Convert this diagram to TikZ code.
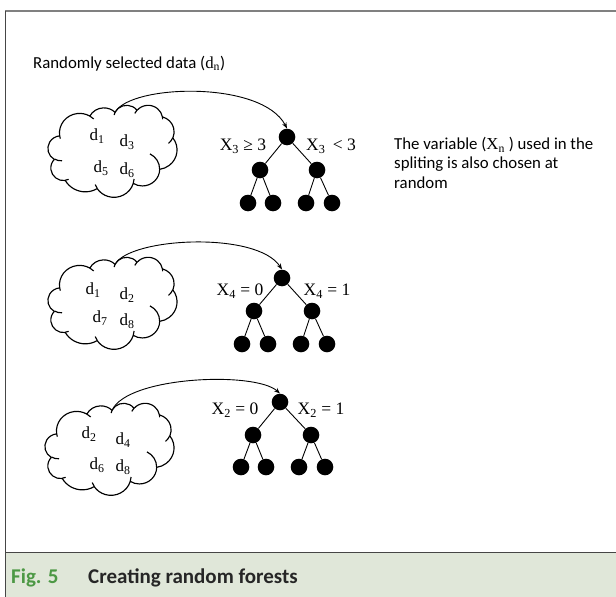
\documentclass[tikz,border=0pt]{standalone}
\usepackage{fontspec}
\setmainfont{Carlito}
\newfontfamily\tms{Liberation Serif}
\usetikzlibrary{arrows.meta}
\definecolor{bandfill}{RGB}{224,231,217}
\definecolor{figgreen}{RGB}{76,152,68}
\definecolor{framegray}{RGB}{128,128,128}
\definecolor{edgegray}{RGB}{70,70,70}
\newcommand{\sbs}[1]{\textsubscript{#1}}
% convert visual (DrawingML) arc angles to parametric angles
\newcommand{\mkarc}[5]{%
  \pgfmathsetmacro\tmpA{atan2(#2*sin(#4),#3*cos(#4))}%
  \pgfmathsetmacro\tmpB{atan2(#2*sin(#4+#5),#3*cos(#4+#5))}%
  \pgfmathsetmacro\tmpD{mod(\tmpB-\tmpA+720,360)}%
  \expandafter\xdef\csname arcS#1\endcsname{\tmpA}%
  \expandafter\xdef\csname arcD#1\endcsname{\tmpD}}
\mkarc{a}{67.53}{91.90}{-190.487}{123.781}
\mkarc{b}{53.33}{72.67}{-144.102}{89.945}
\mkarc{c}{43.65}{59.45}{-145.808}{99.723}
\mkarc{d}{48.57}{65.95}{-130.986}{117.242}
\mkarc{e}{53.33}{72.73}{-78.709}{109.027}
\mkarc{f}{67.75}{92.20}{-46.267}{130.269}
\mkarc{g}{57.85}{78.67}{0.625}{114.033}
\mkarc{h}{67.52}{92.15}{22.452}{115.173}
\mkarc{i}{77.20}{105.43}{66.243}{75.711}
\mkarc{j}{43.60}{59.18}{-274.942}{146.736}
\mkarc{k}{43.45}{59.45}{-246.829}{152.519}
\mkarc{A}{43.45}{59.45}{86.742}{26.430}
\mkarc{B}{43.60}{59.18}{73.610}{11.447}
\mkarc{C}{67.52}{92.15}{137.624}{14.081}
\mkarc{D}{67.52}{92.15}{6.453}{15.998}
\mkarc{E}{57.85}{78.67}{-70.292}{70.917}
\mkarc{F}{53.33}{72.73}{30.318}{27.752}
\mkarc{G}{48.57}{65.95}{-13.744}{14.859}
\mkarc{H}{48.57}{65.95}{-149.181}{18.195}
\mkarc{I}{43.65}{59.45}{-163.494}{17.686}
\mkarc{J}{67.53}{91.90}{-66.707}{12.319}
\mkarc{K}{67.53}{91.90}{157.654}{11.858}
\newcommand{\cloudshape}[1]{%
  \draw[cloudline] (39.00,143.70)
    arc[x radius=67.53,y radius=91.90,start angle=\arcSa,delta angle=\arcDa]
    arc[x radius=53.33,y radius=72.67,start angle=\arcSb,delta angle=\arcDb] coordinate (#1)
    arc[x radius=43.65,y radius=59.45,start angle=\arcSc,delta angle=\arcDc]
    arc[x radius=48.57,y radius=65.95,start angle=\arcSd,delta angle=\arcDd]
    arc[x radius=53.33,y radius=72.73,start angle=\arcSe,delta angle=\arcDe]
    arc[x radius=67.75,y radius=92.20,start angle=\arcSf,delta angle=\arcDf]
    arc[x radius=57.85,y radius=78.67,start angle=\arcSg,delta angle=\arcDg]
    arc[x radius=67.52,y radius=92.15,start angle=\arcSh,delta angle=\arcDh]
    arc[x radius=77.20,y radius=105.43,start angle=\arcSi,delta angle=\arcDi]
    arc[x radius=43.60,y radius=59.18,start angle=\arcSj,delta angle=\arcDj]
    arc[x radius=43.45,y radius=59.45,start angle=\arcSk,delta angle=\arcDk]
    -- cycle;
  \draw[cloudline]
    (46.93,261.77) arc[x radius=43.45,y radius=59.45,start angle=\arcSA,delta angle=\arcDA]
    (69.28,348.99) arc[x radius=43.60,y radius=59.18,start angle=\arcSB,delta angle=\arcDB]
    (164.78,390.90) arc[x radius=67.52,y radius=92.15,start angle=\arcSC,delta angle=\arcDC]
    (288.27,347.51) arc[x radius=67.52,y radius=92.15,start angle=\arcSD,delta angle=\arcDD]
    (341.29,229.54) arc[x radius=57.85,y radius=78.67,start angle=\arcSE,delta angle=\arcDE]
    (417.98,153.54) arc[x radius=53.33,y radius=72.73,start angle=\arcSF,delta angle=\arcDF]
    (383.24,54.26) arc[x radius=48.57,y radius=65.95,start angle=\arcSG,delta angle=\arcDG]
    (290.78,39.52) arc[x radius=48.57,y radius=65.95,start angle=\arcSH,delta angle=\arcDH]
    (221.41,47.20) arc[x radius=43.65,y radius=59.45,start angle=\arcSI,delta angle=\arcDI]
    (140.00,51.92) arc[x radius=67.53,y radius=91.90,start angle=\arcSJ,delta angle=\arcDJ]
    (41.27,157.89) arc[x radius=67.53,y radius=91.90,start angle=\arcSK,delta angle=\arcDK];}
\begin{document}
\begin{tikzpicture}[x=1pt,y=-1pt,
  dot/.style={circle,fill=black,draw=none,inner sep=0pt,minimum size=16.6pt},
  link/.style={line width=0.9pt},
  cloudline/.style={line width=1.15pt,line join=round},
  cloudbox/.style={x=0.29861pt,y=-0.21296pt},
  curvy/.style={line width=0.9pt,-{Stealth[length=6pt,width=4.5pt]}},
  lab/.style={font=\tms\fontsize{17.5}{20}\selectfont,inner sep=0pt},
  dlab/.style={font=\tms\fontsize{17}{20}\selectfont,inner sep=0pt},
  body/.style={font=\fontsize{16.8}{19.3}\selectfont,inner sep=0pt}]
\useasboundingbox (0,0) rectangle (616,597);
% frame and caption band
\fill[bandfill] (5,552) rectangle (616,597);
\draw[framegray,line width=1.5pt] (5,11) -- (616,11);
\draw[edgegray,line width=1pt] (5,11) -- (5,597);
\draw[edgegray,line width=1pt] (5,552) -- (616,552);
\node[anchor=base west,inner sep=0pt,font=\fontsize{21}{24}\selectfont\bfseries,text=figgreen] (fig) at (11,583) {Fig. 5};
\node[anchor=base west,inner sep=0pt,font=\fontsize{21}{24}\selectfont\bfseries,text=black!85] (cap) at (88,583) {Creating random forests};
% title text
\node[body,anchor=base west] (title) at (33,68) {Randomly selected data ({\tms d\sbs{n}})};
\node[body,anchor=north west,align=left] (note) at (394,137) {The variable ({\tms X\sbs{n}} ) used in the\\spliting is also chosen at\\random};
% clouds
\begin{scope}[shift={(48,105)},cloudbox] \cloudshape{s1} \end{scope}
\begin{scope}[shift={(48,257)},cloudbox] \cloudshape{s2} \end{scope}
\begin{scope}[shift={(45,403)},cloudbox] \cloudshape{s3} \end{scope}
\node[dlab] (d11) at (97,136) {d\sbs{1}};
\node[dlab] (d13) at (127,142) {d\sbs{3}};
\node[dlab] (d15) at (101,168) {d\sbs{5}};
\node[dlab] (d16) at (127,170) {d\sbs{6}};
\node[dlab] (d21) at (93,290) {d\sbs{1}};
\node[dlab] (d22) at (127,295) {d\sbs{2}};
\node[dlab] (d27) at (100,318) {d\sbs{7}};
\node[dlab] (d28) at (127,321) {d\sbs{8}};
\node[dlab] (d32) at (89,434) {d\sbs{2}};
\node[dlab] (d34) at (123,440) {d\sbs{4}};
\node[dlab] (d36) at (97,465) {d\sbs{6}};
\node[dlab] (d38) at (123,467) {d\sbs{8}};
% tree 1
\node[dot] (r1) at (287,137) {};
\node[dot] (l1) at (260,170) {};
\node[dot] (m1) at (317,170) {};
\node[dot] (a1) at (248,203) {};
\node[dot] (b1) at (273,203) {};
\node[dot] (e1) at (306,203) {};
\node[dot] (f1) at (332,203) {};
\draw[link] (r1) -- (l1) (r1) -- (m1) (l1) -- (a1) (l1) -- (b1) (m1) -- (e1) (m1) -- (f1);
\node[lab] (t1a) at (243,146) {X\sbs{3} ≥ 3};
\node[lab] (t1b) at (331,146) {X\sbs{3} \,< 3};
% tree 2
\node[dot] (r2) at (282,278) {};
\node[dot] (l2) at (254,311) {};
\node[dot] (m2) at (312,311) {};
\node[dot] (a2) at (242,344) {};
\node[dot] (b2) at (268,344) {};
\node[dot] (e2) at (301,344) {};
\node[dot] (f2) at (327,344) {};
\draw[link] (r2) -- (l2) (r2) -- (m2) (l2) -- (a2) (l2) -- (b2) (m2) -- (e2) (m2) -- (f2);
\node[lab] (t2a) at (240,291) {X\sbs{4} = 0};
\node[lab] (t2b) at (327,291) {X\sbs{4} = 1};
% tree 3
\node[dot] (r3) at (280,402) {};
\node[dot] (l3) at (253,435) {};
\node[dot] (m3) at (311,435) {};
\node[dot] (a3) at (241,467) {};
\node[dot] (b3) at (266,467) {};
\node[dot] (e3) at (299,467) {};
\node[dot] (f3) at (325,467) {};
\draw[link] (r3) -- (l3) (r3) -- (m3) (l3) -- (a3) (l3) -- (b3) (m3) -- (e3) (m3) -- (f3);
\node[lab] (t3a) at (235,410) {X\sbs{2} = 0};
\node[lab] (t3b) at (321,410) {X\sbs{2} = 1};
% curved arrows
\draw[curvy] (s1) .. controls ([shift={(15,-28)}]s1) and (262,80) .. (r1.north);
\draw[curvy] (s2) .. controls ([shift={(15,-27)}]s2) and (257,231) .. (r2.north);
\draw[curvy] (s3) .. controls ([shift={(15,-34)}]s3) and (255,371) .. (r3.north);
\end{tikzpicture}
\end{document}
